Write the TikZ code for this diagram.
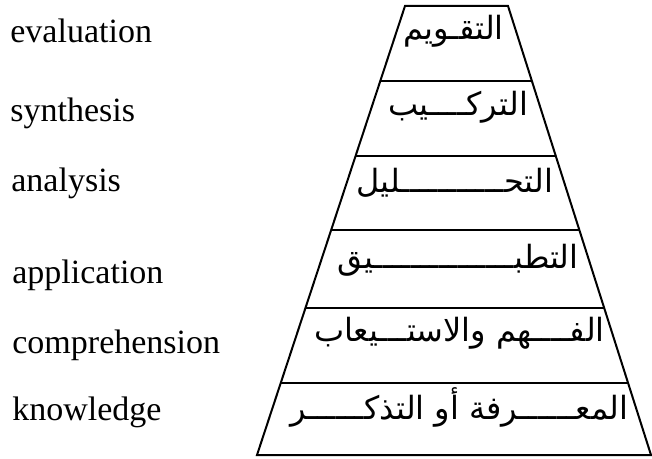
\documentclass[tikz,border=0pt]{standalone}
\usepackage{fontspec}
\setmainfont{Liberation Serif}
\newfontfamily\arabicfont[Script=Arabic]{DejaVu Sans}
\TeXXeTstate=1
\usetikzlibrary{calc}
\newcommand\ksh{ـ}

\begin{document}
\begin{tikzpicture}[x=0.5pt, y=-0.5pt,
 every node/.style={inner sep=0pt},
 eng/.style={anchor=base west, font=\fontsize{17}{20}\selectfont},
 arab/.style={anchor=east, font=\arabicfont\fontsize{16}{18}\selectfont},
 edge/.style={line width=1pt}]

    \useasboundingbox (0,0) rectangle (652,459);

    \coordinate (tl) at (405,6);
    \coordinate (tr) at (508,6);
    \coordinate (bl) at (257,455);
    \coordinate (br) at (651,455);

    \draw[edge] (tl) -- (tr) -- (br) -- (bl) -- cycle;
    \foreach \t [count=\i] in {0.167,0.334,0.499,0.673,0.840} {
        \coordinate (l\i) at ($(tl)!\t!(bl)$);
        \coordinate (r\i) at ($(tr)!\t!(br)$);
        \draw[edge] (l\i) -- (r\i);
    }

    \node[eng] (evaluation) at (10,43) {evaluation};
    \node[eng] (synthesis) at (10,122) {synthesis};
    \node[eng] (analysis) at (11,192) {analysis};
    \node[eng] (application) at (12,284) {application};
    \node[eng] (comprehension) at (12,353) {comprehension};
    \node[eng] (knowledge) at (12,420) {knowledge};

    \node[arab] (taqwim) at ($(tr)!0.056!(br) + (-12,0)$) {\beginR التق\ksh ويم\endR};
    \node[arab] (tarkib) at ($(tr)!0.226!(br) + (-12,0)$) {\beginR الترك\ksh\ksh\ksh\ksh يب\endR};
    \node[arab] (tahlil) at ($(tr)!0.394!(br) + (-11,0)$) {\beginR التح\ksh\ksh\ksh\ksh\ksh\ksh\ksh\ksh\ksh\ksh\ksh ليل\endR};
    \node[arab] (tatbiq) at ($(tr)!0.566!(br) + (-10,0)$) {\beginR التطب\ksh\ksh\ksh\ksh\ksh\ksh\ksh\ksh\ksh\ksh\ksh\ksh\ksh\ksh\ksh يق\endR};
    \node[arab] (fahm) at ($(tr)!0.728!(br) + (-7,0)$) {\beginR الف\ksh\ksh\ksh\ksh هم والاست\ksh\ksh\ksh يعاب\endR};
    \node[arab] (marifa) at ($(tr)!0.893!(br) + (-7,0)$) {\beginR المع\ksh\ksh\ksh\ksh\ksh\ksh رفة أو التذك\ksh\ksh\ksh\ksh\ksh\ksh ر\endR};
\end{tikzpicture}
\end{document}
